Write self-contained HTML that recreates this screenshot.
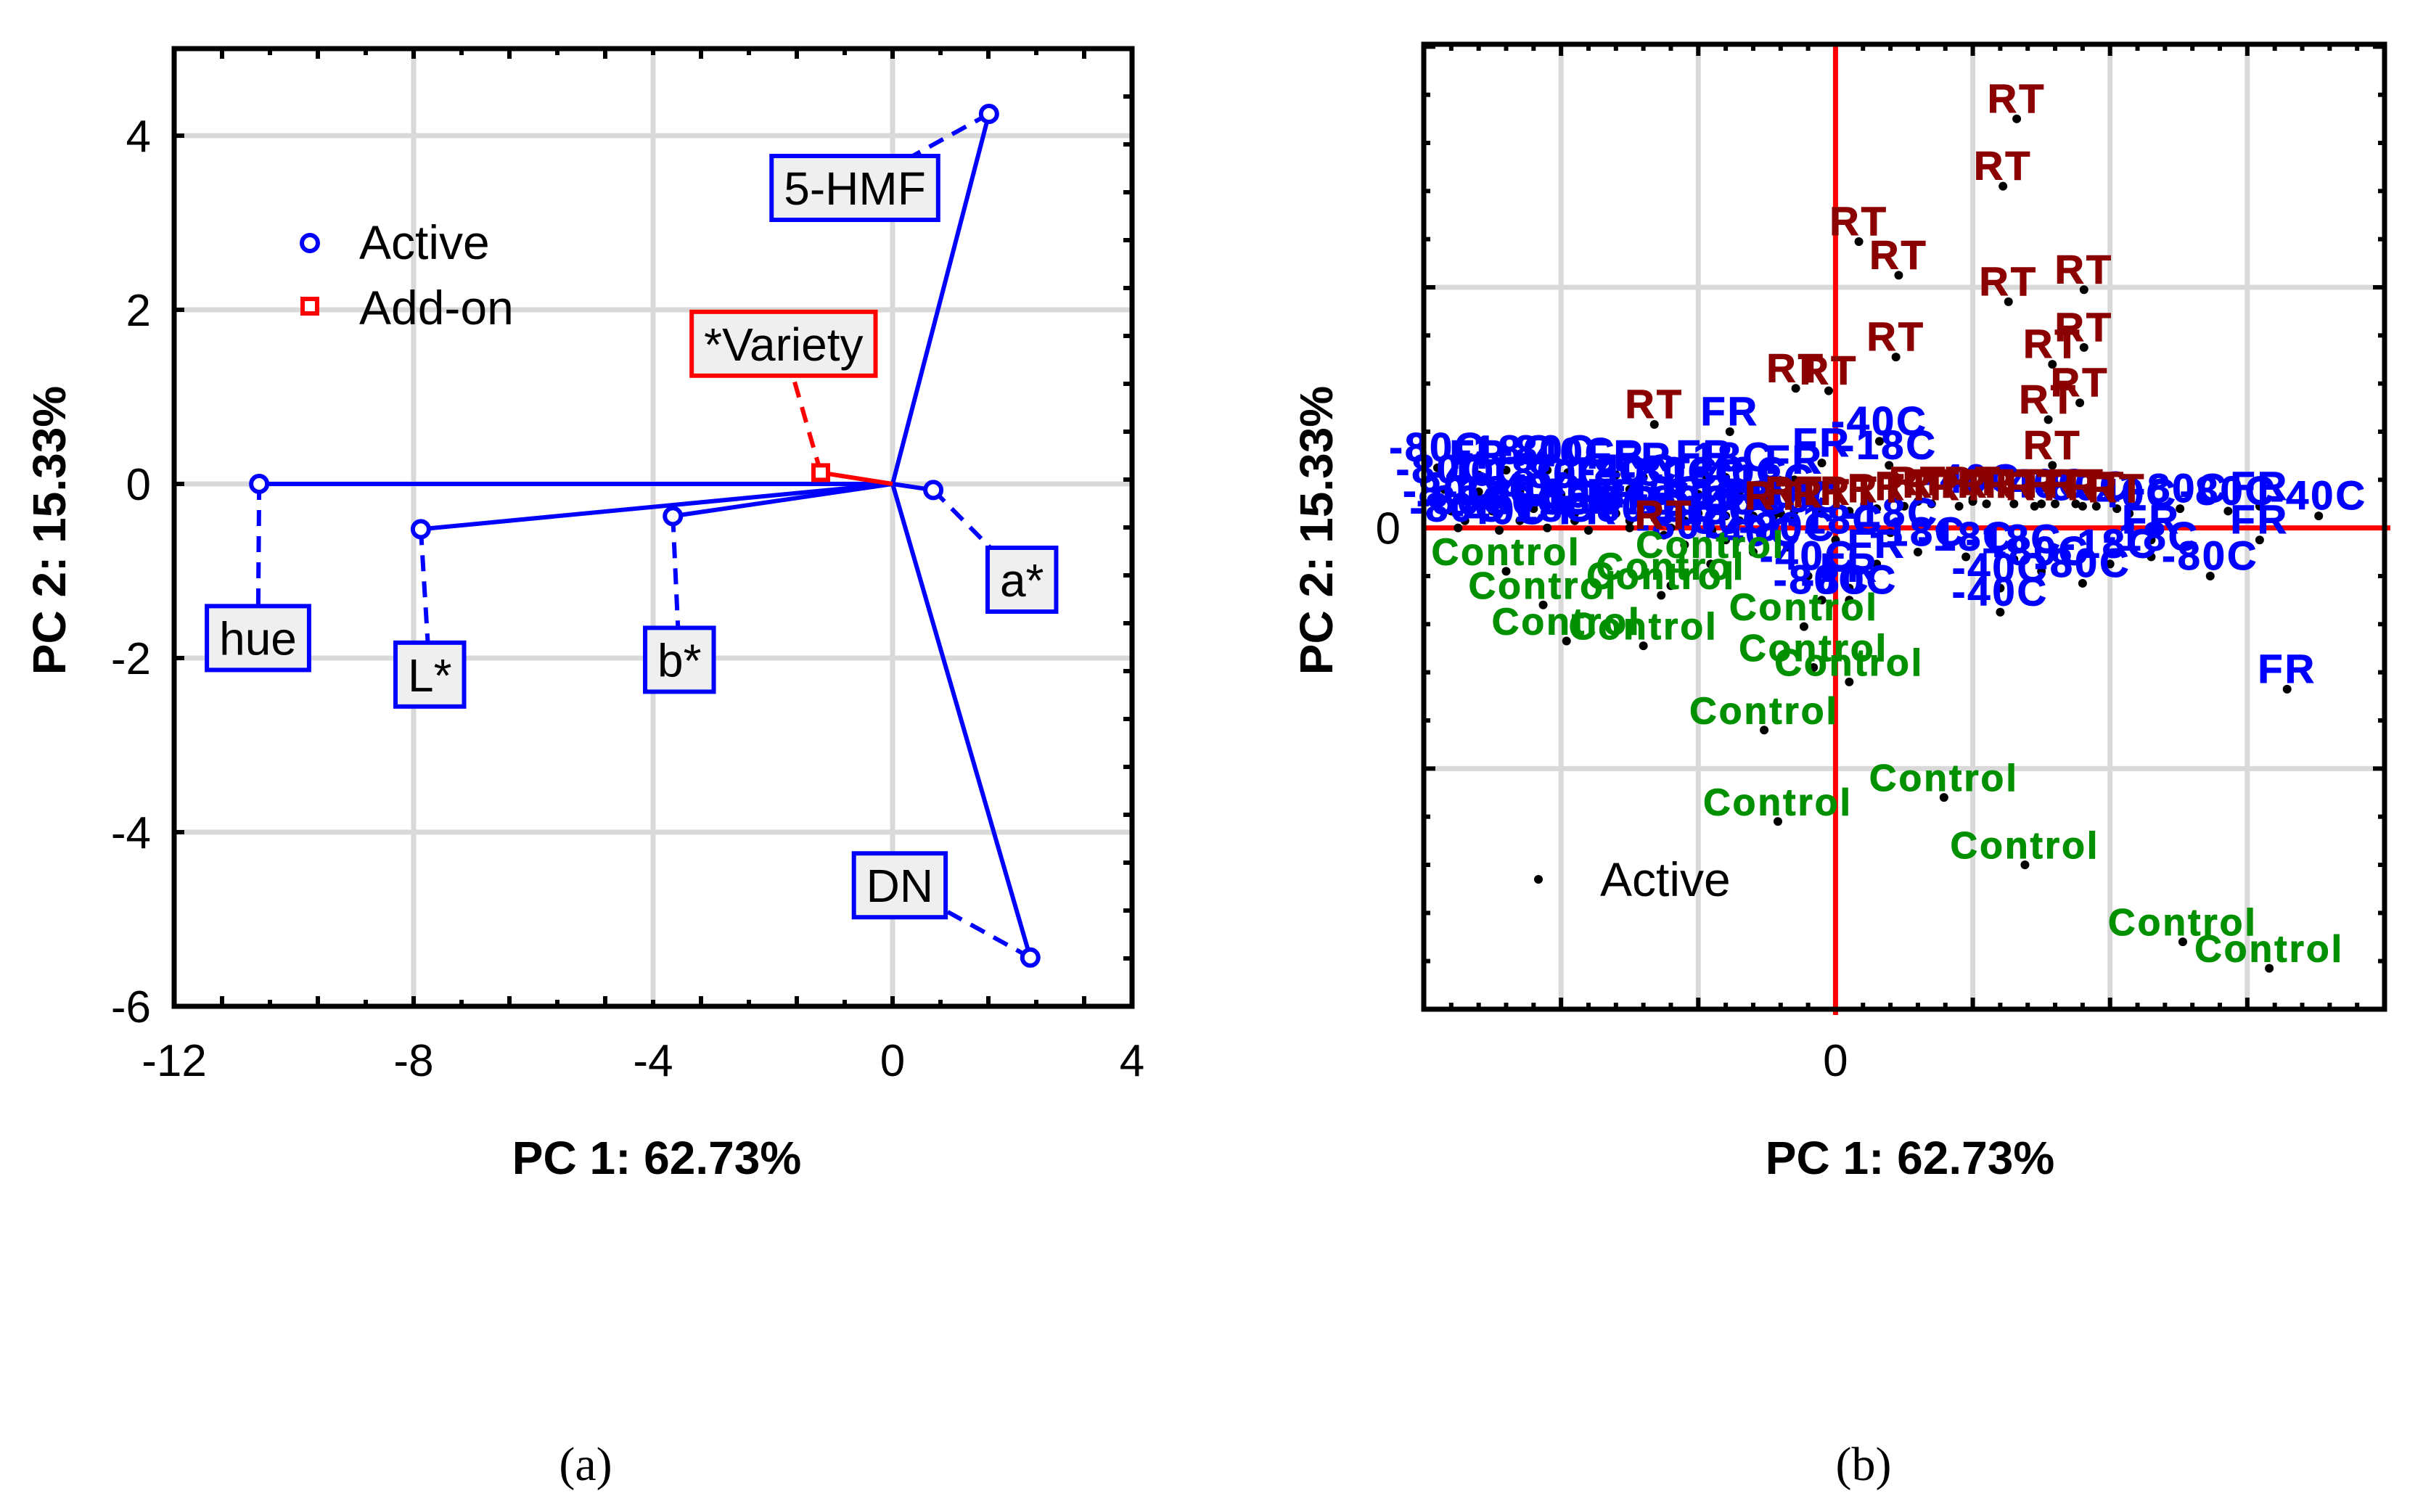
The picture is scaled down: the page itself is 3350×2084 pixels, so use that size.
<!DOCTYPE html>
<html><head><meta charset="utf-8"><style>
html,body{margin:0;padding:0;background:#fff}
svg{display:block}
text{font-family:"Liberation Sans",Arial,sans-serif}
</style></head><body>
<svg id="fig" width="3350" height="2084" viewBox="0 0 3350 2084" xmlns="http://www.w3.org/2000/svg">
<g id="pa"></g>
<g id="pb"></g>
<text x="807" y="2040" font-size="66" text-anchor="middle" style="font-family:'Liberation Serif',serif">(a)</text>
<text x="2568" y="2040" font-size="66" text-anchor="middle" style="font-family:'Liberation Serif',serif">(b)</text>
</svg>
<script>
// ---- Panel (a) data ----
const varNames = ['hue','L*','b*','a*','5-HMF','DN','*Variety'];
const pc1Load = [-10.58,-7.88,-3.67,0.68,1.61,2.30,-1.20];
const pc2Load = [0.0,-0.52,-0.37,-0.07,4.25,-5.44,0.13];
const varType = ['active','active','active','active','active','active','addon'];
const labelPc1 = [-10.6,-7.73,-3.56,2.16,-0.63,0.12,-1.82];
const labelPc2 = [-1.77,-2.19,-2.02,-1.10,3.40,-4.61,1.61];
const aXTicks = [-12,-8,-4,0,4];
const aYTicks = [-6,-4,-2,0,2,4];

// ---- Panel (b) data ----
const rtX = [1.32,1.22,0.17,0.46,1.26,1.81,1.81,1.58,1.78,1.55,1.58,0.44,-0.29,-0.05,-1.32,-1.25,-0.45,-0.3,-0.1,0.1,0.3,0.5,0.7,0.9,1.1,1.3,1.45,1.6,1.75,1.9,2.05,0.6,1.0];
const rtY = [1.70,1.42,1.19,1.05,0.94,0.99,0.75,0.68,0.52,0.45,0.26,0.71,0.58,0.57,0.43,-0.03,0.05,0.07,0.06,0.07,0.08,0.09,0.1,0.09,0.1,0.1,0.09,0.1,0.1,0.09,0.08,0.11,0.11];
const ctlX = [-2.40,-2.13,-1.96,-1.40,-1.27,-1.20,-0.91,-0.23,-0.16,0.10,-0.52,-0.42,0.79,1.38,2.53,3.16];
const ctlY = [-0.18,-0.32,-0.47,-0.49,-0.28,-0.24,-0.15,-0.41,-0.58,-0.64,-0.84,-1.22,-1.12,-1.40,-1.72,-1.83];
const bluX = [-2.9,-2.6,-2.4,-2.1,-1.95,-1.6,-1.4,-0.95,-0.8,-2.85,-2.6,-2.3,-2.0,-1.7,-1.5,-1.2,-1.0,-0.7,-0.5,-2.8,-2.5,-2.2,-1.9,-1.6,-1.3,-1.0,-0.8,-0.6,-0.4,-2.75,-2.45,-2.1,-1.8,-1.5,-1.2,-0.9,-1.1,-0.8,-2.7,-2.3,-1.9,-1.5,-1.1,-0.7,-0.3,
  0.32,0.39,-0.77,3.52,3.29,3.09,2.73,3.09,2.86,2.51,2.30,2.14,1.8,2.3,2.0,1.8,1.5,1.2,1.2,0.95,1.3,0.6,0.4,0.3,0.1,0.1,-0.1,-0.2,0.0,-0.6,-0.35,1.0,1.5,-0.3,-0.1];
const bluY = [0.25,0.22,0.24,0.24,0.23,0.22,0.21,0.22,0.21,0.16,0.15,0.15,0.14,0.15,0.16,0.15,0.14,0.15,0.12,0.07,0.07,0.08,0.06,0.06,0.07,0.06,0.05,0.05,0.06,0.0,-0.01,0.0,-0.01,0.0,0.0,-0.01,-0.07,-0.05,0.03,0.03,0.03,0.03,0.03,0.03,0.04,
  0.36,0.26,0.40,0.05,-0.67,0.09,-0.20,-0.05,0.07,0.08,-0.12,0.06,0.09,-0.05,-0.15,-0.23,-0.18,-0.25,-0.35,-0.12,-0.13,-0.10,-0.02,-0.15,-0.25,-0.30,-0.30,-0.20,-0.05,-0.10,-0.08,0.12,0.10,0.20,0.27];
const bluLab = ['-80C','FR','-18C','-80C','-40C','FR','FR','FR','-18C','-80C','-40C','-18C','-80C','-18C','-40C','-80C','-18C','-40C','-18C','-80C','-18C','-40C','-80C','FR','-40C','-80C','-18C','FR','-40C','-80C','-40C','-18C','FR','-80C','-40C','-18C','-80C','-80C','-80C','-40C','-18C','FR','-80C','-40C','-18C',
  '-40C','-18C','FR','-40C','FR','FR','-80C','FR','-80C','-80C','-18C','-40C','-80C','FR','-18C','-80C','-80C','-40C','-40C','-18C','-18C','-18C','-18C','FR','FR','-80C','-80C','-40C','-18C','-40C','-80C','-40C','-40C','FR','FR'];
const bXTicks = [0];
const bYTicks = [0];

const NS='http://www.w3.org/2000/svg';
function mk(parent,tag,attrs){const e=document.createElementNS(NS,tag);for(const k in attrs)e.setAttribute(k,attrs[k]);parent.appendChild(e);return e;}

// ===== Panel A =====
const A={l:240,r:1560,t:67,b:1387,x0:-12,x1:4,y0:-6,y1:5};
const ax=v=>A.l+(v-A.x0)/(A.x1-A.x0)*(A.r-A.l);
const ay=v=>A.b-(v-A.y0)/(A.y1-A.y0)*(A.b-A.t);
const pa=document.getElementById('pa');
aXTicks.forEach(v=>{if(v>A.x0&&v<A.x1){const g=mk(pa,'line',{x1:ax(v),x2:ax(v),y1:A.t,y2:A.b,stroke:'#d9d9d9','stroke-width':7});

}
const t=mk(pa,'text',{x:ax(v),y:1483,'font-size':62,'text-anchor':'middle'});t.textContent=v;

});
aYTicks.forEach(v=>{if(v>A.y0&&v<A.y1){const g=mk(pa,'line',{x1:A.l,x2:A.r,y1:ay(v),y2:ay(v),stroke:'#d9d9d9','stroke-width':7});

}
const t=mk(pa,'text',{x:208,y:ay(v)+22,'font-size':62,'text-anchor':'end'});t.textContent=v;

});
for(let v=A.x0;v<=A.x1+1e-6;v+=0.8){const L=(Math.abs(Math.round(v/1.6)*1.6-v)<1e-6)?14:9;
const t1=mk(pa,'line',{x1:ax(v),x2:ax(v),y1:A.t,y2:A.t+L,stroke:'#000','stroke-width':6});
const t2=mk(pa,'line',{x1:ax(v),x2:ax(v),y1:A.b,y2:A.b-L,stroke:'#000','stroke-width':6});}
for(let v=A.y0;v<=A.y1+1e-6;v+=0.55){
const t1=mk(pa,'line',{x1:A.r,x2:A.r-12,y1:ay(v),y2:ay(v),stroke:'#000','stroke-width':6});}
aYTicks.forEach(v=>{const t1=mk(pa,'line',{x1:A.l,x2:A.l+14,y1:ay(v),y2:ay(v),stroke:'#000','stroke-width':6});});
varNames.forEach((n,i)=>{const c=varType[i]==='addon'?'#ff0000':'#0000ff';
const d=mk(pa,'line',{x1:ax(pc1Load[i]),y1:ay(pc2Load[i]),x2:ax(labelPc1[i]),y2:ay(labelPc2[i]),stroke:c,'stroke-width':6,'stroke-dasharray':'22,14'});

});
varNames.forEach((n,i)=>{const c=varType[i]==='addon'?'#ff0000':'#0000ff';
const l=mk(pa,'line',{x1:ax(0),y1:ay(0),x2:ax(pc1Load[i]),y2:ay(pc2Load[i]),stroke:c,'stroke-width':6});

});
varNames.forEach((n,i)=>{let m;
if(varType[i]==='addon'){m=mk(pa,'rect',{x:ax(pc1Load[i])-10,y:ay(pc2Load[i])-10,width:20,height:20,fill:'#fff',stroke:'#ff0000','stroke-width':6});}
else{m=mk(pa,'circle',{cx:ax(pc1Load[i]),cy:ay(pc2Load[i]),r:11,fill:'#fff',stroke:'#0000ff','stroke-width':6});}

});
varNames.forEach((n,i)=>{const c=varType[i]==='addon'?'#ff0000':'#0000ff';
const g=mk(pa,'g',{});


const r=mk(g,'rect',{fill:'#efefef',stroke:c,'stroke-width':6});
const t=mk(g,'text',{x:ax(labelPc1[i]),y:ay(labelPc2[i])+23,'font-size':64,'text-anchor':'middle'});t.textContent=n;
const w=t.getComputedTextLength()+34;
r.setAttribute('x',ax(labelPc1[i])-w/2);r.setAttribute('y',ay(labelPc2[i])-44);r.setAttribute('width',w);r.setAttribute('height',88);});
mk(pa,'rect',{x:A.l,y:A.t,width:A.r-A.l,height:A.b-A.t,fill:'none',stroke:'#000','stroke-width':7});
const lg=mk(pa,'g',{});


mk(lg,'circle',{cx:427,cy:335,r:11,fill:'#fff',stroke:'#0000ff','stroke-width':6});
let lt=mk(lg,'text',{x:495,y:357,'font-size':66});lt.textContent='Active';
mk(lg,'rect',{x:417,y:412,width:20,height:20,fill:'#fff',stroke:'#ff0000','stroke-width':6});
lt=mk(lg,'text',{x:495,y:447,'font-size':66});lt.textContent='Add-on';
let tt=mk(pa,'text',{x:905,y:1618,'font-size':64,'font-weight':'bold','text-anchor':'middle'});tt.textContent='PC 1: 62.73%';


tt=mk(pa,'text',{x:0,y:0,'font-size':64,'font-weight':'bold','text-anchor':'middle',transform:'translate(90,731) rotate(-90)'});tt.textContent='PC 2: 15.33%';



// ===== Panel B =====
const B={l:1962,r:3286,t:61,b:1391,x0:-3,x1:4,y0:-2,y1:2.01};
const bx=v=>B.l+(v-B.x0)/(B.x1-B.x0)*(B.r-B.l);
const by=v=>B.b-(v-B.y0)/(B.y1-B.y0)*(B.b-B.t);
const pb=document.getElementById('pb');
[-2,-1,1,2,3].forEach(v=>{const g=mk(pb,'line',{x1:bx(v),x2:bx(v),y1:B.t,y2:B.b,stroke:'#d9d9d9','stroke-width':7});

});
[-1,1].forEach(v=>{const g=mk(pb,'line',{x1:B.l,x2:B.r,y1:by(v),y2:by(v),stroke:'#d9d9d9','stroke-width':7});

});
for(let k=0;k<=35;k++){const v=B.x0+k*0.2;const L=(k%5===0)?16:9;
const t1=mk(pb,'line',{x1:bx(v),x2:bx(v),y1:B.t,y2:B.t+L,stroke:'#000','stroke-width':6});
const t2=mk(pb,'line',{x1:bx(v),x2:bx(v),y1:B.b,y2:B.b-L,stroke:'#000','stroke-width':6});}
for(let k=0;k<=20;k++){const v=B.y0+k*0.2;const L=(k%5===0)?16:9;
const t1=mk(pb,'line',{x1:B.l,x2:B.l+L,y1:by(v),y2:by(v),stroke:'#000','stroke-width':6});
const t2=mk(pb,'line',{x1:B.r,x2:B.r-L,y1:by(v),y2:by(v),stroke:'#000','stroke-width':6});}
let z=mk(pb,'line',{x1:bx(0),x2:bx(0),y1:B.t,y2:B.b+8,stroke:'#ff0000','stroke-width':7});


z=mk(pb,'line',{x1:B.l,x2:B.r+8,y1:by(0),y2:by(0),stroke:'#ff0000','stroke-width':7});


function dot(x,y){const d=mk(pb,'circle',{cx:bx(x),cy:by(y),r:6,fill:'#000'});

}
function lab(x,y,s,c,fs){const t=mk(pb,'text',{x:bx(x),y:by(y)-9,'font-size':fs,'font-weight':'bold','text-anchor':'middle',fill:c,'letter-spacing':3,stroke:c,'stroke-width':1});t.textContent=s;

}
bluX.forEach((v,i)=>dot(v,bluY[i]));
rtX.forEach((v,i)=>dot(v,rtY[i]));
ctlX.forEach((v,i)=>dot(v,ctlY[i]));
bluX.forEach((v,i)=>lab(v,bluY[i],bluLab[i],'#0000ff',56));
rtX.forEach((v,i)=>lab(v,rtY[i],'RT','#8b0000',56));
ctlX.forEach((v,i)=>lab(v,ctlY[i],'Control','#009000',52));
mk(pb,'rect',{x:B.l,y:B.t,width:B.r-B.l,height:B.b-B.t,fill:'none',stroke:'#000','stroke-width':7});
let t0=mk(pb,'text',{x:1930,y:by(0)+22,'font-size':62,'text-anchor':'end'});t0.textContent=bYTicks[0];


t0=mk(pb,'text',{x:bx(0),y:1483,'font-size':62,'text-anchor':'middle'});t0.textContent=bXTicks[0];


const lb=mk(pb,'g',{});


mk(lb,'circle',{cx:2120,cy:1212,r:6,fill:'#000'});
lt=mk(lb,'text',{x:2205,y:1235,'font-size':66});lt.textContent='Active';
tt=mk(pb,'text',{x:2632,y:1618,'font-size':64,'font-weight':'bold','text-anchor':'middle'});tt.textContent='PC 1: 62.73%';


tt=mk(pb,'text',{x:0,y:0,'font-size':64,'font-weight':'bold','text-anchor':'middle',transform:'translate(1836,731) rotate(-90)'});tt.textContent='PC 2: 15.33%';


</script>
</body></html>
